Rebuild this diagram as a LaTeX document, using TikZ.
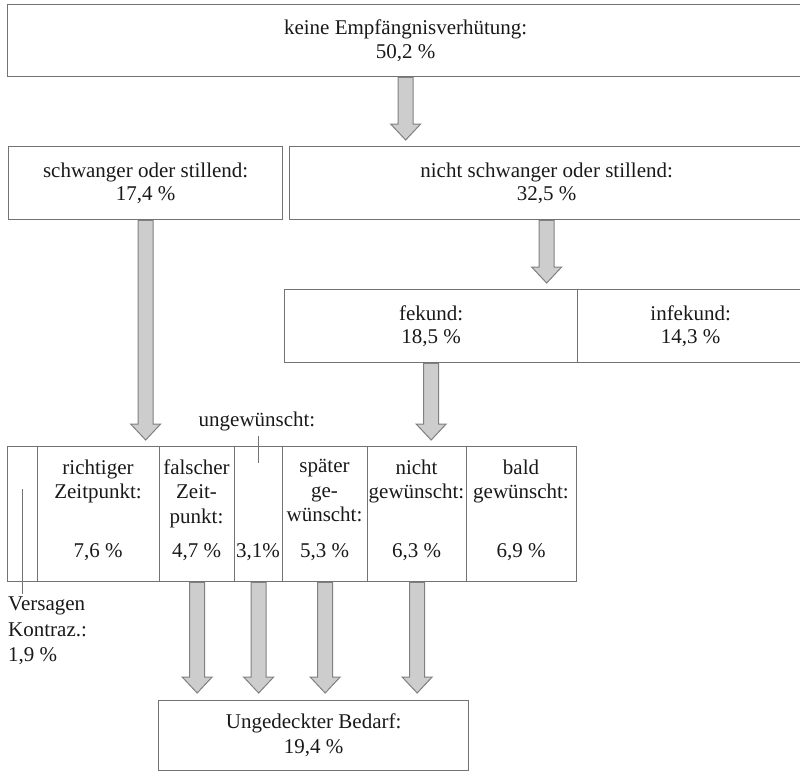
\documentclass[tikz,border=0pt]{standalone}
\usepackage{fontspec}
\setmainfont{Liberation Serif}
\usetikzlibrary{calc}
\definecolor{boxline}{RGB}{115,115,115}
\definecolor{arrfill}{RGB}{205,205,205}
\definecolor{arrline}{RGB}{128,128,128}
\definecolor{ink}{RGB}{25,25,25}
\newcommand{\fatarrow}[2]{%
  \path[fatarr] let \p1=(#1), \p2=(#2) in
    (\x1-7.5pt,\y1) -- (\x1-7.5pt,\y2+16pt) -- (\x1-15pt,\y2+16pt) -- (\x1,\y2)
    -- (\x1+15pt,\y2+16pt) -- (\x1+7.5pt,\y2+16pt) -- (\x1+7.5pt,\y1) -- cycle;}
\begin{document}
\begin{tikzpicture}[x=1pt,y=-1pt,
  box/.style={draw=boxline, line width=1.3pt, rectangle, anchor=north west,
    inner sep=0pt, align=center, text=ink, font=\fontsize{21}{23.5}\selectfont},
  cell/.style={draw=boxline, line width=1.3pt, rectangle, anchor=north west,
    inner sep=0pt, minimum height=135pt},
  lab/.style={anchor=north, align=center, inner sep=0pt, text=ink,
    font=\fontsize{21}{24.5}\selectfont},
  pct/.style={anchor=base, inner sep=0pt, text=ink, font=\fontsize{21}{24}\selectfont},
  fatarr/.style={fill=arrfill, draw=arrline, line width=1pt, line join=miter},
  thin/.style={draw=boxline, line width=1pt}]
\useasboundingbox (0,0) rectangle (800,772);

% boxes
\node[box, minimum width=796pt, minimum height=72pt] (top) at (7,4)
  {keine Empfängnisverhütung:\\50,2 \%};
\node[box, minimum width=274pt, minimum height=73pt] (schw) at (8,146)
  {schwanger oder stillend:\\17,4 \%};
\node[box, minimum width=514pt, minimum height=73pt] (nschw) at (289,146)
  {nicht schwanger oder stillend:\\32,5 \%};
\node[box, minimum width=293pt, minimum height=73pt] (fek) at (284,289)
  {fekund:\\18,5 \%};
\node[box, minimum width=226pt, minimum height=73pt] (infek) at (577,289)
  {infekund:\\14,3 \%};

% row of cells
\node[cell, minimum width=30pt] (c0) at (7,446) {};
\node[cell, minimum width=122pt] (c1) at (37,446) {};
\node[cell, minimum width=75pt] (c2) at (159,446) {};
\node[cell, minimum width=48pt] (c3) at (234,446) {};
\node[cell, minimum width=85pt] (c4) at (282,446) {};
\node[cell, minimum width=99pt] (c5) at (367,446) {};
\node[cell, minimum width=110pt] (c6) at (466,446) {};

\node[lab] (l1) at (98,459.5) {richtiger\\Zeitpunkt:};
\node[lab] (l2) at (196.5,459.5) {falscher\\Zeit-\\punkt:};
\node[lab] (l4) at (324.5,459.5) {später\\ge-\\wünscht:};
\node[lab] (l5) at (416.5,459.5) {nicht\\gewünscht:};
\node[lab] (l6) at (521,459.5) {bald\\gewünscht:};

\node[pct] (p1) at (98,557) {7,6 \%};
\node[pct] (p2) at (196.5,557) {4,7 \%};
\node[pct] (p3) at (258,557) {3,1\%};
\node[pct] (p4) at (324.5,557) {5,3 \%};
\node[pct] (p5) at (416.5,557) {6,3 \%};
\node[pct] (p6) at (521,557) {6,9 \%};

\node[pct] (ug) at (257,426) {ungewünscht:};
\coordinate (u1) at (258,436);
\coordinate (u2) at (258,463);
\draw[thin] (u1) -- (u2);

\node[anchor=north west, align=left, inner sep=0pt, text=ink,
  font=\fontsize{21}{25.5}\selectfont] (vers) at (8,597)
  {Versagen\\Kontraz.:\\1,9 \%};
\coordinate (v1) at (22,489);
\coordinate (v2) at (22,594);
\draw[thin] (v1) -- (v2);

\node[box, minimum width=310pt, minimum height=70pt,
  font=\fontsize{21}{25}\selectfont] (bed) at (158,700)
  {Ungedeckter Bedarf:\\19,4 \%};

% arrow tips
\coordinate (t1) at (405,140);
\coordinate (t2) at (145,440);
\coordinate (t3) at (546,283);
\coordinate (t4) at (430.5,440);
\coordinate (t5) at (196.5,693);
\coordinate (t6) at (258,693);
\coordinate (t7) at (324.5,693);
\coordinate (t8) at (416.5,693);

\fatarrow{top.south}{t1}
\fatarrow{schw.south}{t2}
\fatarrow{nschw.south}{t3}
\fatarrow{fek.south}{t4}
\fatarrow{c2.south}{t5}
\fatarrow{c3.south}{t6}
\fatarrow{c4.south}{t7}
\fatarrow{c5.south}{t8}
\end{tikzpicture}
\end{document}
